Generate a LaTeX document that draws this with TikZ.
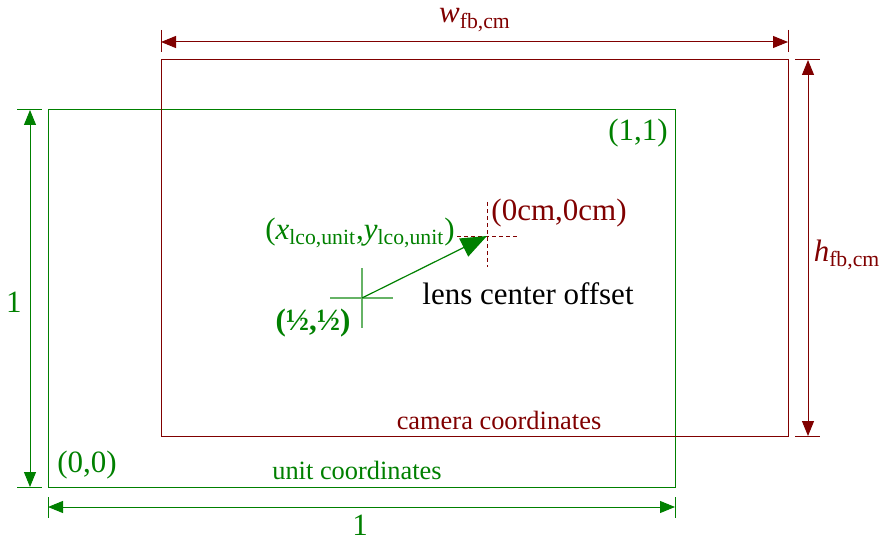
\documentclass[tikz,border=0pt]{standalone}
\usepackage{fontspec}
\setmainfont{Liberation Serif}
\usetikzlibrary{positioning, arrows.meta}
\definecolor{camred}{RGB}{128,0,0}
\definecolor{unitgreen}{RGB}{0,128,0}

\begin{document}
\begin{tikzpicture}[x=0.5pt, y=-0.5pt,
  big/.style={font=\fontsize{15.5}{18}\selectfont, inner sep=0pt},
  small/.style={font=\fontsize{13.2}{16}\selectfont, inner sep=0pt},
  frame/.style={line width=0.5pt},
  dimline/.style={line width=0.5pt, {Triangle[length=7.5pt,width=6pt]}-{Triangle[length=7.5pt,width=6pt]}},
  extline/.style={line width=0.5pt}]
  \useasboundingbox (0,0) rectangle (884,540);
  \coordinate (u00) at (48,487);
  \coordinate (u11) at (675,110);
  \coordinate (c00) at (161,436);
  \coordinate (c11) at (788,60);
  \draw[unitgreen, frame] (u00) rectangle (u11);
  \draw[camred, frame] (c00) rectangle (c11);
  % camera dimensions
  \coordinate (wl) at (161,42);
  \coordinate (wr) at (788,42);
  \draw[camred, extline] (161,30) -- (161,52) (788,30) -- (788,52);
  \draw[camred, dimline] (wl) -- (wr);
  \node[big, camred] (wfb) at (475,20) {\textit{w}\textsubscript{fb,cm}};
  \coordinate (ht) at (808,60);
  \coordinate (hb) at (808,436);
  \draw[camred, extline] (795,60) -- (820,60) (795,436) -- (820,436);
  \draw[camred, dimline] (ht) -- (hb);
  \node[big, camred] (hfb) at (847,255) {\textit{h}\textsubscript{fb,cm}};
  % unit dimensions
  \coordinate (lt) at (30,110);
  \coordinate (lb) at (30,487);
  \draw[unitgreen, extline] (17,110) -- (42,110) (17,487) -- (42,487);
  \draw[unitgreen, dimline] (lt) -- (lb);
  \node[big, unitgreen] (oneleft) at (14,302) {1};
  \coordinate (bl) at (48,507);
  \coordinate (br) at (675,507);
  \draw[unitgreen, extline] (48,497) -- (48,518) (675,497) -- (675,518);
  \draw[unitgreen, dimline] (bl) -- (br);
  \node[big, unitgreen] (onebottom) at (360,525) {1};
  % labels
  \node[big, unitgreen] (uone) at (638,133) {(1,1)};
  \node[big, unitgreen] (uzero) at (87,465) {(0,0)};
  \node[small, unitgreen] (unitname) at (357,470) {unit coordinates};
  \node[small, camred] (camname) at (499,420) {camera coordinates};
  % lens center offset
  \coordinate (half) at (362,298);
  \coordinate (lco) at (487,236);
  \draw[unitgreen!60, line width=0.6pt] (330,298) -- (393,298) (362,268) -- (362,328);
  \draw[camred, line width=0.4pt, dash pattern=on 2pt off 1.5pt] (457,236) -- (519,236) (487,202) -- (487,267);
  \draw[unitgreen, line width=0.6pt, -{Triangle[length=13pt,width=10pt]}] (half) -- (lco);
  \node[big, camred] (origin) at (559,213) {(0cm,0cm)};
  \node[big, unitgreen] (lcolabel) at (360,233) {(\textit{x}\textsubscript{lco,unit},\textit{y}\textsubscript{lco,unit})};
  \node[big, font=\fontsize{15.5}{18}\selectfont\bfseries, unitgreen] (halflabel) at (313,323) {(½,½)};
  \node[big] (offsetname) at (528,294) {lens center offset};
\end{tikzpicture}
\end{document}
